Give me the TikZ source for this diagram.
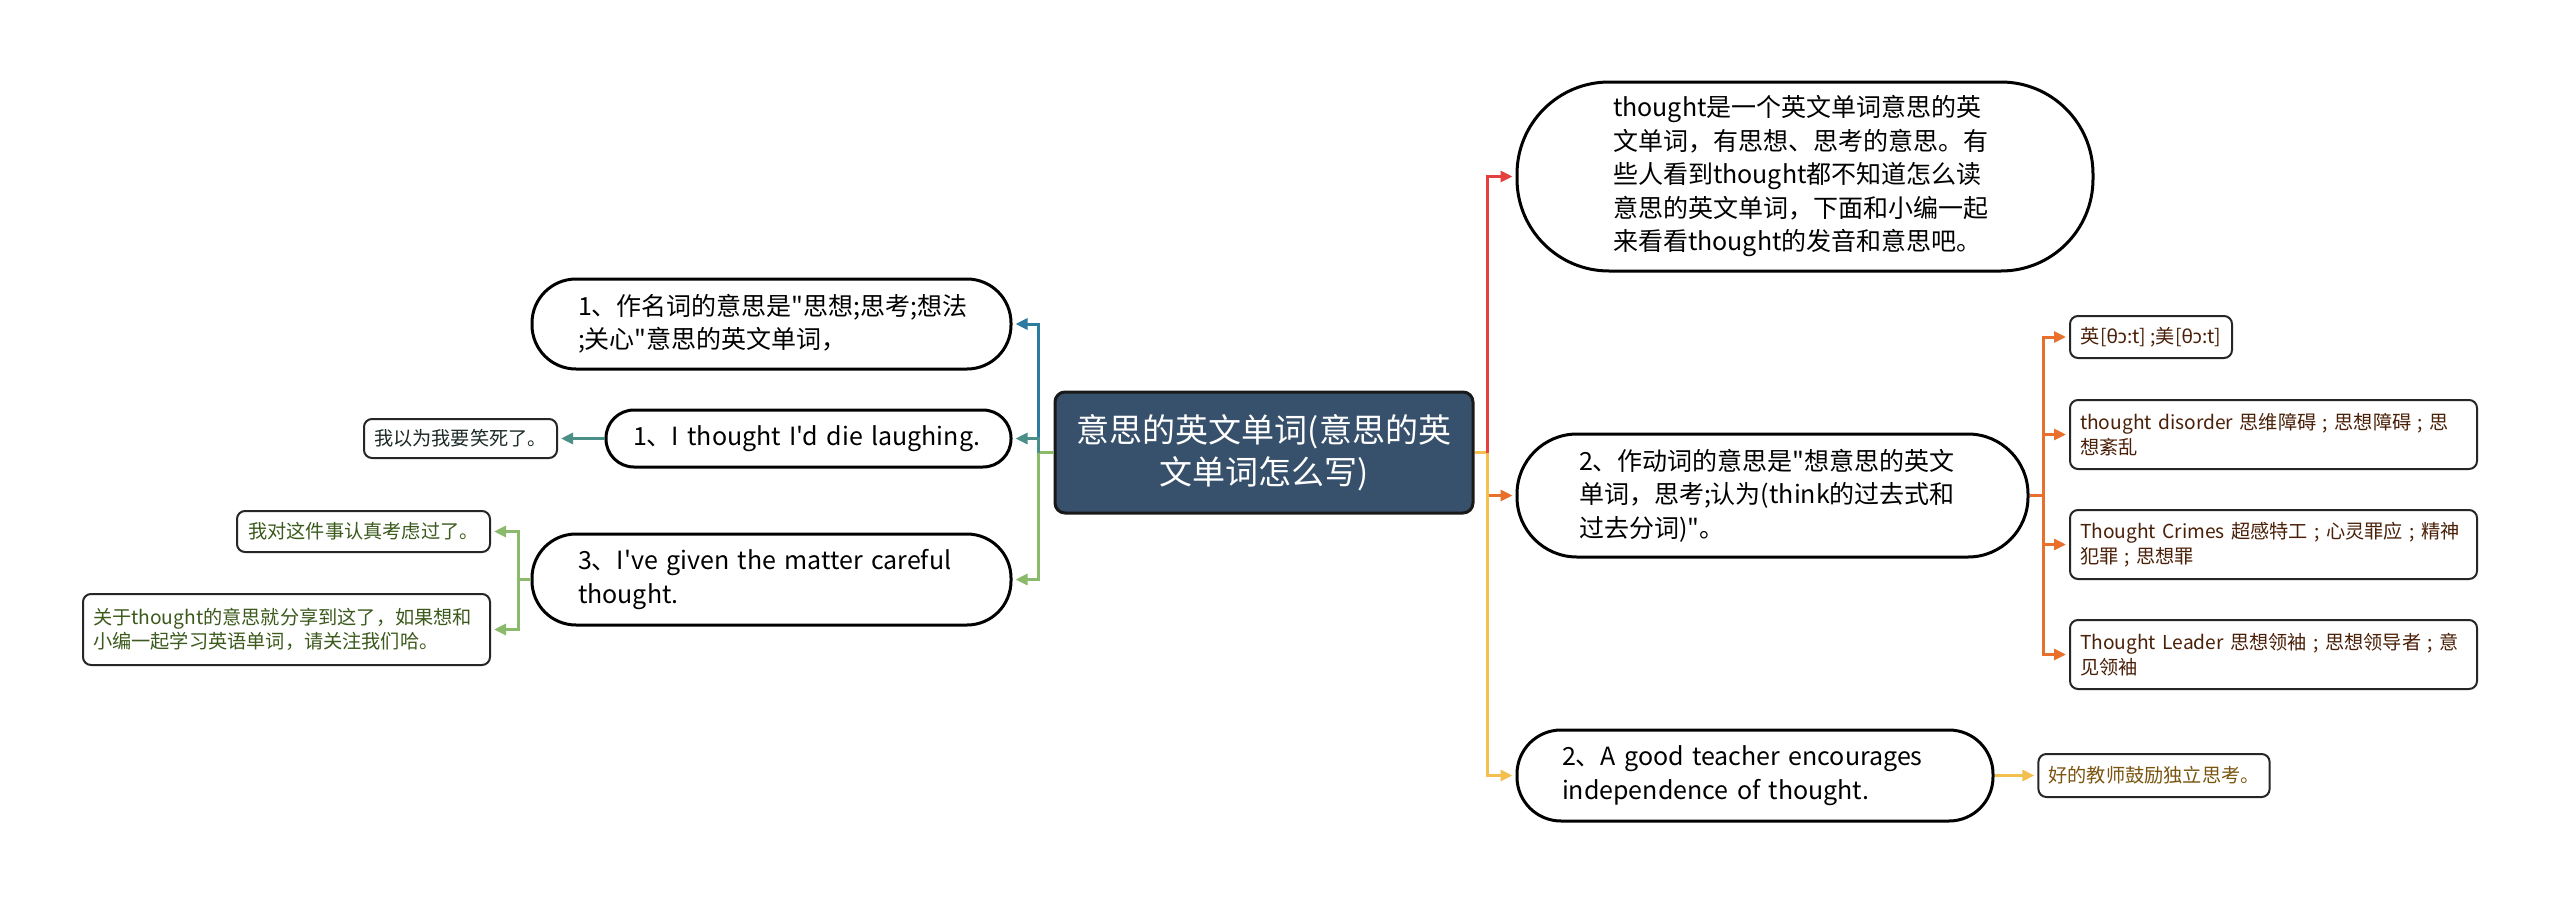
\documentclass[tikz,border=0pt]{standalone}
\usepackage{fontspec}
\setmainfont{Noto Sans CJK SC}[Ligatures=TeXOff]
\newfontfamily\ipafont{Noto Sans}[Ligatures=TeXOff]
\usetikzlibrary{arrows.meta}
\definecolor{cen}{HTML}{37506B}
\definecolor{cteal}{HTML}{2E7BA0}
\definecolor{ctg}{HTML}{4A9088}
\definecolor{cgreen}{HTML}{8BBA6C}
\definecolor{cred}{HTML}{E3403F}
\definecolor{corange}{HTML}{E8702C}
\definecolor{cyellow}{HTML}{F3C050}
\definecolor{tbrown}{HTML}{4A2008}
\definecolor{tyel}{HTML}{7A5510}
\definecolor{tgreen}{HTML}{3B5A1C}
\definecolor{tdark}{HTML}{1C2A28}
\begin{document}
\begin{tikzpicture}[x=0.5pt,y=-0.5pt,
  centre/.style={draw=black!90, line width=1.5pt, fill=cen, text=white, rounded corners=5pt,
    align=center, inner sep=0pt, font=\fontsize{16.5}{21}\selectfont},
  mainbox/.style={draw=black, line width=1.5pt, fill=white, align=left, inner ysep=0pt,
    font=\fontsize{12.5}{16.75}\selectfont},
  leafbox/.style={draw=black!85, line width=1pt, fill=white, rounded corners=4pt, align=left,
    inner xsep=5pt, inner ysep=0pt, font=\fontsize{9.6}{12.3}\selectfont},
  conn/.style={line width=1.5pt, shorten >=1.5pt, -{Triangle[length=6pt,width=5.5pt]}},
  plain/.style={line width=1.5pt}
]
\fill[white] (0,0) rectangle (2560,905);
\useasboundingbox (0,0) rectangle (2560,905);

% central
\node[centre, minimum width=209pt, minimum height=60.5pt] (cen) at (1264,452.5)
  {意思的英文单词(意思的英\\文单词怎么写)};

% right main nodes
\node[mainbox, rounded corners=46pt, inner xsep=48pt, text width=192pt, minimum height=94.5pt] (T) at (1805,176.5)
  {\mbox{thought是一个英文单词意思的英}\\\mbox{文单词，有思想、思考的意思。有}\\\mbox{些人看到thought都不知道怎么读}\\\mbox{意思的英文单词，下面和小编一起}\\\mbox{来看看thought的发音和意思吧。}};
\node[mainbox, rounded corners=30pt, inner xsep=31pt, text width=193.5pt, minimum height=61.5pt] (V) at (1772.5,495.5)
  {\mbox{2、作动词的意思是"想意思的英文}\\\mbox{单词，思考;认为(think的过去式和}\\\mbox{过去分词)"。}};
\node[mainbox, rounded corners=22pt, inner xsep=22.5pt, text width=193pt, minimum height=45.5pt] (Y) at (1755,775.5)
  {\mbox{2、A good teacher encourages}\\\mbox{independence of thought.}};

% left main nodes
\node[mainbox, rounded corners=22pt, inner xsep=23pt, text width=193.5pt, minimum height=45pt] (A) at (771.5,324)
  {\mbox{1、作名词的意思是"思想;思考;想法}\\\mbox{;关心"意思的英文单词，}};
\node[mainbox, rounded corners=14pt, inner xsep=13.5pt, text width=175.5pt, minimum height=28.5pt] (B) at (808.5,438.5)
  {\mbox{1、I thought I'd die laughing.}};
\node[mainbox, rounded corners=22pt, inner xsep=23pt, text width=193.5pt, minimum height=45.5pt] (C) at (771.5,579.5)
  {\mbox{3、I've given the matter careful}\\\mbox{thought.}};

% leaves
\node[leafbox, text=tdark, minimum width=96.5pt, minimum height=19.5pt] (B1) at (460.5,438.5)
  {我以为我要笑死了。};
\node[leafbox, text=tgreen, minimum width=126.5pt, minimum height=20.5pt] (C1) at (363.5,531.5)
  {我对这件事认真考虑过了。};
\node[leafbox, text=tgreen, text width=193.5pt, minimum height=35.5pt] (C2) at (286.5,629.5)
  {\mbox{关于thought的意思就分享到这了，如果想和}\\\mbox{小编一起学习英语单词，请关注我们哈。}};
\node[leafbox, text=tbrown, minimum width=81pt, minimum height=21pt] (O1) at (2151,337)
  {英[{\ipafont θɔ}:t] ;美[{\ipafont θɔ}:t]};
\node[leafbox, text=tbrown, text width=193.5pt, minimum height=34.5pt] (O2) at (2273.5,434.5)
  {\mbox{thought disorder 思维障碍 ; 思想障碍 ; 思}\\想紊乱};
\node[leafbox, text=tbrown, text width=193.5pt, minimum height=34.5pt] (O3) at (2273.5,544.5)
  {\mbox{Thought Crimes 超感特工 ; 心灵罪应 ; 精神}\\\mbox{犯罪 ; 思想罪}};
\node[leafbox, text=tbrown, text width=193.5pt, minimum height=34.5pt] (O4) at (2273.5,654.5)
  {\mbox{Thought Leader 思想领袖 ; 思想领导者 ; 意}\\见领袖};
\node[leafbox, text=tyel, minimum width=115pt, minimum height=21.5pt] (Y1) at (2154,775.5)
  {好的教师鼓励独立思考。};

% right connectors
\coordinate (rj) at (1487,452.5);
\draw[plain, cyellow] (cen.east) -- (rj);
\draw[conn, cred] (rj) |- (T.west);
\draw[conn, corange] (rj) |- (V.west);
\draw[conn, cyellow] (rj) |- (Y.west);

\coordinate (oj) at (2043,495.5);
\draw[plain, corange] (V.east) -- (oj);
\draw[conn, corange] (oj) |- (O1.west);
\draw[conn, corange] (oj) |- (O2.west);
\draw[conn, corange] (oj) |- (O3.west);
\draw[conn, corange] (oj) |- (O4.west);

\draw[conn, cyellow] (Y.east) -- (Y1.west);

% left connectors
\coordinate (lj) at (1038,452.5);
\draw[plain, cgreen] (cen.west) -- (lj);
\draw[conn, cteal] (lj) |- (A.east);
\draw[conn, ctg] (lj) |- (B.east);
\draw[conn, cgreen] (lj) |- (C.east);

\draw[conn, ctg] (B.west) -- (B1.east);

\coordinate (cj) at (518,579.5);
\draw[plain, cgreen] (C.west) -- (cj);
\draw[conn, cgreen] (cj) |- (C1.east);
\draw[conn, cgreen] (cj) |- (C2.east);
\end{tikzpicture}
\end{document}
